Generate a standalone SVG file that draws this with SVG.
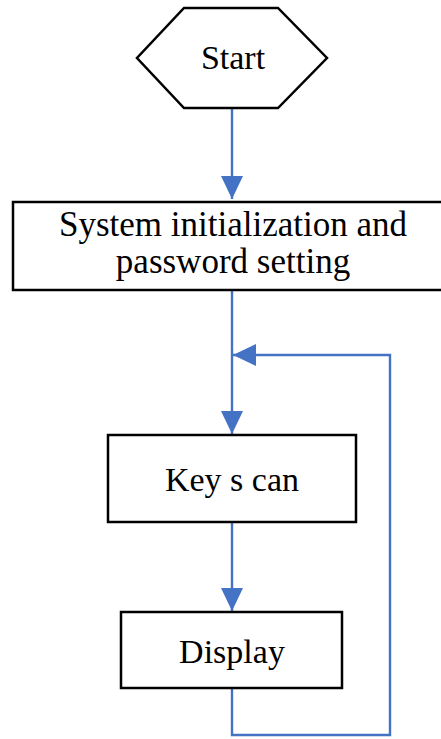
<svg xmlns="http://www.w3.org/2000/svg" width="441" height="739" viewBox="0 0 441 739">
<style>
.node{fill:#fff;stroke:#000;stroke-width:2.5}
.lbl{font-family:"Liberation Serif","Times New Roman",serif;font-size:34px;fill:#000;text-anchor:middle}
.conn{fill:none;stroke:#4472C4;stroke-width:2.4}
</style>
<defs>
<marker id="ah" markerUnits="userSpaceOnUse" markerWidth="24" markerHeight="22" refX="23" refY="11" orient="auto">
<path d="M0,0 L23,11 L0,22 Z" fill="#4472C4"/>
</marker>
</defs>
<rect width="441" height="739" fill="#fff"/>
<g id="connectors">
<path class="conn" d="M232,108 V199" marker-end="url(#ah)"/>
<path class="conn" d="M232,291 V434" marker-end="url(#ah)"/>
<path class="conn" d="M232,522 V611" marker-end="url(#ah)"/>
<path class="conn" d="M232,688 V735 H390 V355 H233" marker-end="url(#ah)"/>
</g>
<g id="start">
<polygon class="node" points="184,8 278,8 327,58 278,108 184,108 137,58"/>
<text class="lbl" x="233" y="69">Start</text>
</g>
<g id="init">
<rect class="node" x="13" y="202" width="440" height="88"/>
<text class="lbl" x="233" y="236" style="font-size:35px">System initialization and</text>
<text class="lbl" x="233" y="273" style="font-size:35px">password setting</text>
</g>
<g id="keyscan">
<rect class="node" x="108" y="435" width="248" height="87"/>
<text class="lbl" x="232" y="491">Key s can</text>
</g>
<g id="display">
<rect class="node" x="121" y="612" width="221" height="76"/>
<text class="lbl" x="232" y="663">Display</text>
</g>
</svg>
